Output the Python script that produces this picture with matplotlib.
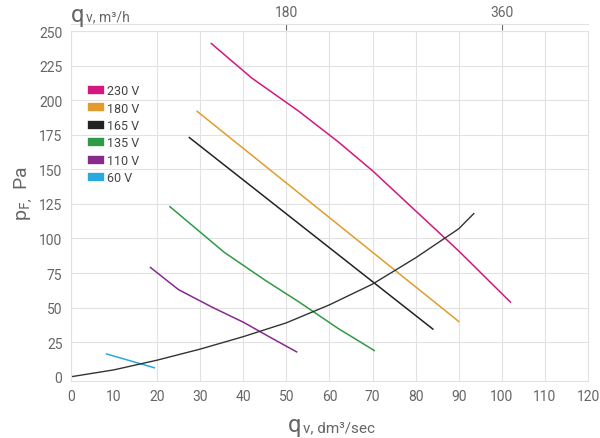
import matplotlib
matplotlib.use("Agg")
import matplotlib.pyplot as plt

plt.rcParams["font.family"] = ["Roboto", "DejaVu Sans"]

# fan curves, qv in dm3/sec vs pF in Pa
speeds = ["230 V", "180 V", "165 V", "135 V", "110 V", "60 V"]
colors = ["#d4177f", "#e39b2c", "#222222", "#2e9a45", "#862a8c", "#29a9e0"]
curve_x = [
    [32.6, 42, 52.9, 62, 70, 80, 90, 102],
    [29.3, 90],
    [27.5, 84],
    [23, 35.6, 45, 53, 62, 70.4],
    [18.5, 25, 33, 40, 46, 52.4],
    [8.3, 19.4],
]
curve_y = [
    [241, 216, 192, 170, 149, 120, 91, 54],
    [192, 40],
    [173, 34.5],
    [123, 90, 70, 54, 35, 19],
    [79, 63, 50, 39.5, 29, 18],
    [16.5, 6.5],
]
# system resistance curve
sys_x = [0, 10, 20, 30, 40, 50, 60, 70, 80, 90, 93.5]
sys_y = [0, 5, 12, 20, 29, 39, 52, 67, 86, 107, 118]

grey = "#666666"
fig = plt.figure(figsize=(6, 4.39), dpi=100)
ax = fig.add_axes([0.118, 0.13, 0.862, 0.797])

for xs, ys, c, lab in zip(curve_x, curve_y, colors, speeds):
    ax.plot(xs, ys, color=c, lw=1.1, label=lab)
ax.plot(sys_x, sys_y, color="#333333", lw=1.0)

ax.set_xlim(0, 120)
ax.set_ylim(-3, 250)
ax.set_xticks(range(0, 121, 10))
ax.set_yticks(range(0, 251, 25))
ax.tick_params(length=0, labelsize=10, colors=grey, pad=6)
for v in [0] + list(range(20, 121, 10)):
    ax.axvline(v, color="#e2e2e2", lw=0.8, zorder=0)
for v in range(25, 251, 25):
    ax.axhline(v, color="#e2e2e2", lw=0.8, zorder=0)
for s in ax.spines.values():
    s.set_color("#e2e2e2")

top = ax.secondary_xaxis("top", functions=(lambda q: q * 3.6, lambda m: m / 3.6))
top.set_xticks([180, 360])
top.tick_params(length=4, direction="in", colors=grey, labelsize=10, pad=4)
top.spines["top"].set_color("#e2e2e2")
top.spines["top"].set_position(("outward", 5))

fig.text(0.118, 0.965, "q", fontsize=17, color=grey, va="center")
fig.text(0.143, 0.96, "v, m³/h", fontsize=10, color=grey, va="center")
fig.text(0.48, 0.03, "q", fontsize=17, color=grey, va="center")
fig.text(0.505, 0.025, "v, dm³/sec", fontsize=11, color=grey, va="center")
fig.text(0.02, 0.56, r"p$_{\mathrm{F,}}$ Pa", fontsize=14, color=grey, rotation=90, va="center")

leg = ax.legend(loc="upper left", bbox_to_anchor=(0.02, 0.88), frameon=False,
                handlelength=0.6, handleheight=0.6, handletextpad=0.6,
                labelspacing=0.35, fontsize=9)
for h, c in zip(leg.legend_handles, colors):
    h.set_linewidth(6)
for t in leg.get_texts():
    t.set_color("#444444")

fig.savefig("out.png", dpi=100)
